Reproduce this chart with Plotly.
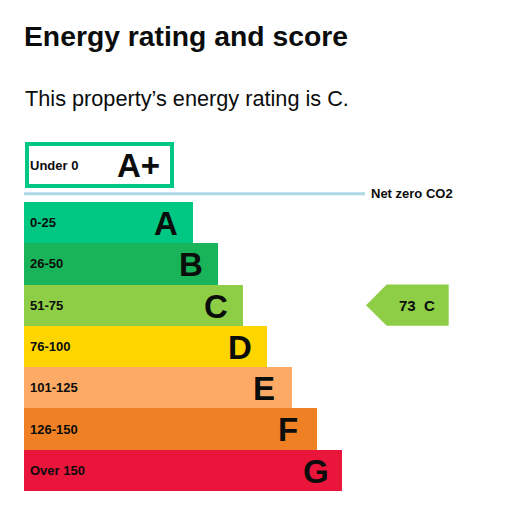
import plotly.graph_objects as go

# ---- data ----
bands = ["A", "B", "C", "D", "E", "F", "G"]
score_ranges = ["0-25", "26-50", "51-75", "76-100", "101-125", "126-150", "Over 150"]
band_colors = ["#00c781", "#19b459", "#8dce46", "#ffd500", "#fcaa65", "#ef8023", "#e9153b"]
top_band = "A+"
top_range = "Under 0"
net_zero_label = "Net zero CO2"
current_score = 73
current_rating = "C"
title_text = "Energy rating and score"
subtitle_text = "This property\u2019s energy rating is " + current_rating + "."

# ---- layout constants (page-pixel-like scale) ----
OFF = 8                      # page body margin
W, H = 509, 498              # figure size
FONT = "Liberation Sans, Arial, sans-serif"
bar_left = 24
bar_first_len = 169
bar_step = 24.8
band_top_px = 202
band_h_px = (491 - 202) / 7.0

def ypx(p):
    # page pixel row -> band-unit value
    return (p - band_top_px) / band_h_px - 0.5

def paper_y(p):
    return 1 - (p - OFF) / H

def paper_x(p):
    return (p - OFF) / W

idx = list(range(len(bands)))
lengths = [bar_first_len + bar_step * i for i in idx]

fig = go.Figure()

# A+ outlined box
aplus_y = ypx(165)
fig.add_trace(go.Bar(
    orientation="h", y=[aplus_y], x=[144.7], base=[27], width=[1.0],
    marker=dict(color="white", line=dict(color="#00c781", width=4)),
    hoverinfo="skip", showlegend=False,
))

# band bars
fig.add_trace(go.Bar(
    orientation="h", y=idx, x=lengths, base=[bar_left] * len(idx), width=[1.0] * len(idx),
    marker=dict(color=band_colors, line=dict(width=0)),
    hoverinfo="skip", showlegend=False,
))

annotations = []
for i, (b, r, L) in enumerate(zip(bands, score_ranges, lengths)):
    annotations.append(dict(x=28, y=i, xref="x", yref="y", text="<b>%s</b>" % r,
                            showarrow=False, xanchor="left", yanchor="middle",
                            font=dict(family=FONT, size=13, color="#0b0c0c")))
    annotations.append(dict(x=bar_left + L - 41, y=i + 0.02, xref="x", yref="y", text="<b>%s</b>" % b,
                            showarrow=False, xanchor="left", yanchor="middle",
                            font=dict(family=FONT, size=33, color="#0b0c0c")))

annotations.append(dict(x=28, y=aplus_y, xref="x", yref="y", text="<b>%s</b>" % top_range,
                        showarrow=False, xanchor="left", yanchor="middle",
                        font=dict(family=FONT, size=13, color="#0b0c0c")))
annotations.append(dict(x=162, y=aplus_y + 0.02, xref="x", yref="y", text="<b>%s</b>" % top_band,
                        showarrow=False, xanchor="right", yanchor="middle",
                        font=dict(family=FONT, size=33, color="#0b0c0c")))

# net zero line
nz_y = ypx(193.8)
shapes = [dict(type="line", xref="x", yref="y", x0=24, x1=365, y0=nz_y, y1=nz_y,
               line=dict(color="#add8e6", width=3))]
annotations.append(dict(x=369, y=nz_y, xref="x", yref="y", text="<b>%s</b>" % net_zero_label,
                        showarrow=False, xanchor="left", yanchor="middle",
                        font=dict(family=FONT, size=13, color="#0b0c0c")))

# current rating arrow
ci = bands.index(current_rating)
tip_x, neck_x, end_x = 366, 386.7, 448.7
path = "M %f,%f L %f,%f L %f,%f L %f,%f L %f,%f Z" % (
    tip_x, ci, neck_x, ci - 0.5, end_x, ci - 0.5, end_x, ci + 0.5, neck_x, ci + 0.5)
shapes.append(dict(type="path", xref="x", yref="y", path=path,
                   fillcolor=band_colors[ci], line=dict(width=0)))
annotations.append(dict(x=417, y=ci, xref="x", yref="y",
                        text="<b>%d&nbsp;&nbsp;%s</b>" % (current_score, current_rating),
                        showarrow=False, xanchor="center", yanchor="middle",
                        font=dict(family=FONT, size=15, color="#0b0c0c")))

# title and subtitle
annotations.append(dict(x=paper_x(22), y=paper_y(36), xref="paper", yref="paper",
                        text="<b>%s</b>" % title_text, showarrow=False,
                        xanchor="left", yanchor="middle",
                        font=dict(family=FONT, size=28.3, color="#0b0c0c")))
annotations.append(dict(x=paper_x(22.5), y=paper_y(98), xref="paper", yref="paper",
                        text=subtitle_text, showarrow=False,
                        xanchor="left", yanchor="middle",
                        font=dict(family=FONT, size=21.7, color="#0b0c0c")))

fig.update_layout(
    width=W, height=H, margin=dict(l=0, r=0, t=0, b=0),
    paper_bgcolor="white", plot_bgcolor="white",
    barmode="overlay", bargap=0,
    xaxis=dict(range=[OFF, OFF + W], domain=[0, 1], visible=False, fixedrange=True),
    yaxis=dict(range=[ypx(OFF + H), ypx(OFF)], domain=[0, 1], visible=False, fixedrange=True),
    shapes=shapes, annotations=annotations, showlegend=False,
)

fig.write_html("out.html")
